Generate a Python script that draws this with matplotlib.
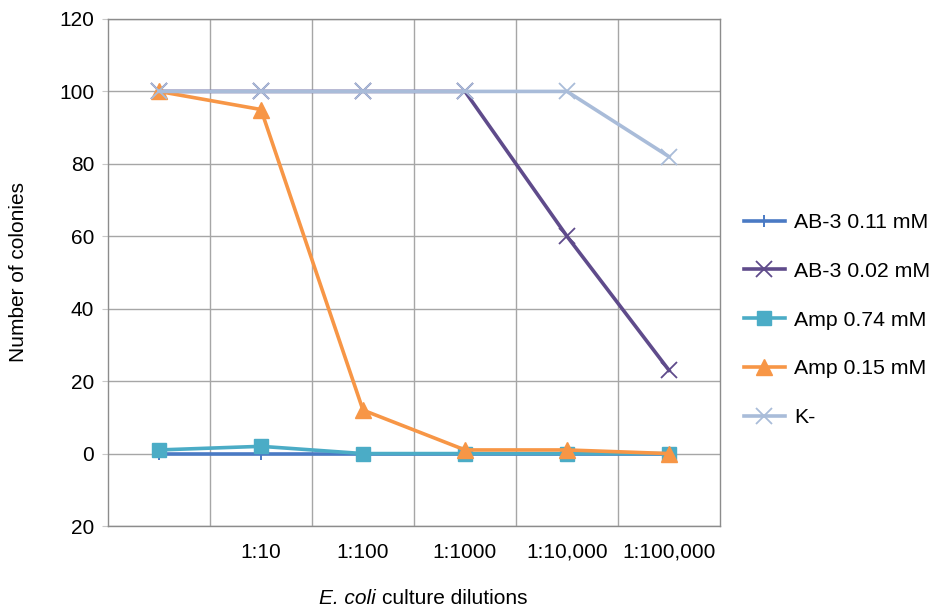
import matplotlib
matplotlib.use("Agg")
import matplotlib.pyplot as plt

plt.rcParams['font.family'] = ['Liberation Sans', 'DejaVu Sans']
plt.rcParams['mathtext.fontset'] = 'custom'
plt.rcParams['mathtext.rm'] = 'Liberation Sans'
plt.rcParams['mathtext.it'] = 'Liberation Sans:italic'

# Dilution categories and colony counts
dilutions = ['', '1:10', '1:100', '1:1000', '1:10,000', '1:100,000']
ab3_011 = [0, 0, 0, 0, 0, 0]
ab3_002 = [100, 100, 100, 100, 60, 23]
amp_074 = [1, 2, 0, 0, 0, 0]
amp_015 = [100, 95, 12, 1, 1, 0]
k_neg = [100, 100, 100, 100, 100, 82]

y_ticks = [-20, 0, 20, 40, 60, 80, 100, 120]
y_tick_labels = ['20', '0', '20', '40', '60', '80', '100', '120']

fig = plt.figure(figsize=(9.36, 6.08), dpi=100)
ax = fig.add_axes([108 / 936, 1 - 526 / 608, 612 / 936, 507 / 608])

x = list(range(len(dilutions)))
ax.plot(x, ab3_011, color='#4a7ac4', lw=2.6, marker='+', ms=9, mew=1.4,
        label='AB-3 0.11 mM', zorder=3)
ax.plot(x, ab3_002, color='#5f4b8b', lw=2.6, marker='x', ms=12, mew=1.3,
        label='AB-3 0.02 mM', zorder=3)
ax.plot(x, amp_074, color='#4bacc6', lw=2.6, marker='s', ms=10,
        label='Amp 0.74 mM', zorder=4)
ax.plot(x, amp_015, color='#f79646', lw=2.6, marker='^', ms=11,
        label='Amp 0.15 mM', zorder=5)
ax.plot(x, k_neg, color='#a9bcd9', lw=2.6, marker='x', ms=12, mew=1.3,
        label='K-', zorder=6)

ax.set_xlim(-0.5, 5.5)
ax.set_ylim(-20, 120)
ax.set_yticks(y_ticks)
ax.set_yticklabels(y_tick_labels, fontsize=15)
ax.set_xticks(x)
ax.set_xticklabels(dilutions, fontsize=15)
ax.tick_params(axis='x', length=0, pad=12)
ax.tick_params(axis='y', length=4, color='#c8c8c8', pad=6)

# Gridlines: horizontal at value ticks, vertical between categories
for yv in y_ticks:
    ax.axhline(yv, color='#a6a6a6', lw=1.0, zorder=1)
for xv in [0.5, 1.5, 2.5, 3.5, 4.5]:
    ax.axvline(xv, color='#a6a6a6', lw=1.0, zorder=1)
for sp in ax.spines.values():
    sp.set_color('#8c8c8c')
    sp.set_linewidth(1.0)

ax.set_ylabel('Number of colonies', fontsize=15, labelpad=22)

# Axis title with an italic species name, built from two adjoining texts
title_y = 1 - 598 / 608
t_it = fig.text(0, title_y, 'E. coli ', fontsize=15, style='italic',
                va='center', ha='left')
t_rm = fig.text(0, title_y, 'culture dilutions', fontsize=15,
                va='center', ha='left')
renderer = fig.canvas.get_renderer()
w_it = t_it.get_window_extent(renderer).width
w_rm = t_rm.get_window_extent(renderer).width
x0 = 423 - (w_it + w_rm) / 2
t_it.set_x(x0 / 936)
t_rm.set_x((x0 + w_it) / 936)

fig.legend(loc='center left', bbox_to_anchor=(725 / 936, 1 - 320 / 608),
           frameon=False, fontsize=15.3, handlelength=1.9, labelspacing=1.4,
           handletextpad=0.47)

fig.savefig('out.png', dpi=100)
